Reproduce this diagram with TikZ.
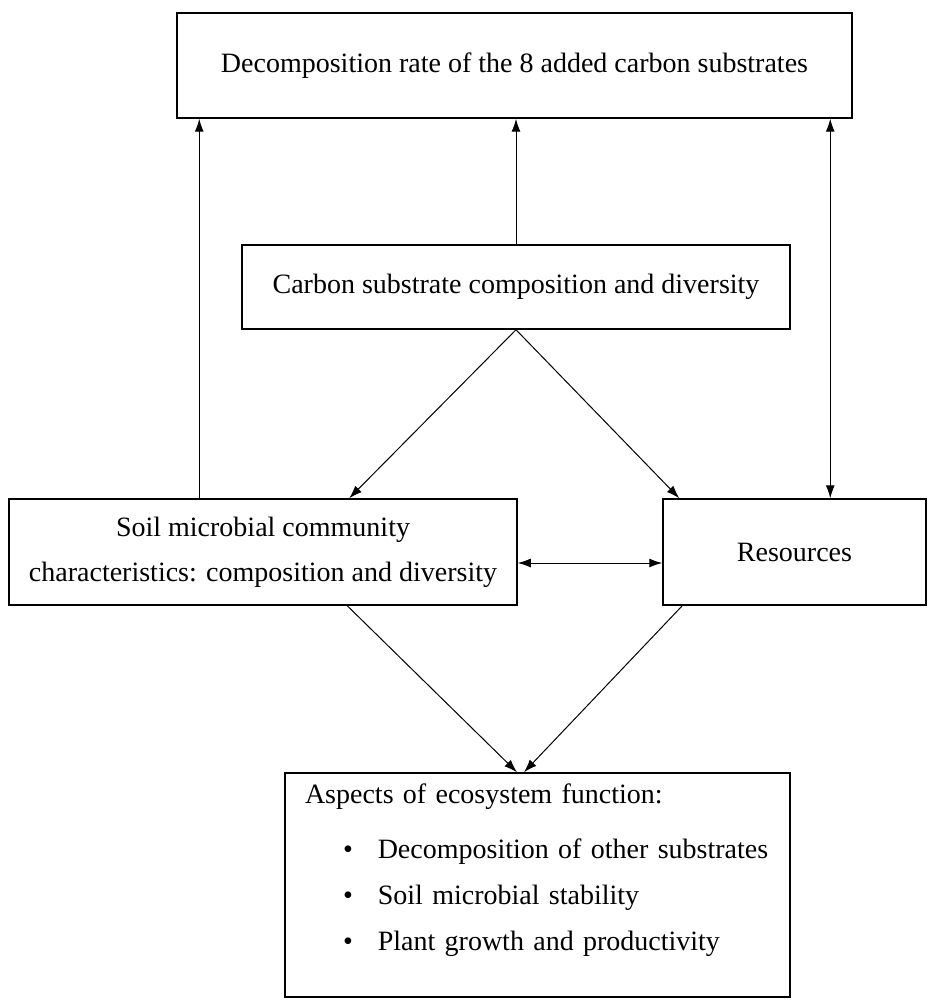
\documentclass[tikz,border=0pt]{standalone}
\usepackage{fontspec}
\setmainfont{Liberation Serif}
\usetikzlibrary{arrows.meta}
\begin{document}
\begin{tikzpicture}[x=0.5pt, y=-0.5pt,
    box/.style={draw, line width=0.75pt, inner sep=0pt, align=center, font=\fontsize{14}{22.5}\selectfont},
    arr/.style={-{Latex[length=6.5pt,width=4.5pt]}, line width=0.5pt},
    dbl/.style={{Latex[length=6.5pt,width=4.5pt]}-{Latex[length=6.5pt,width=4.5pt]}, line width=0.5pt}]
      \useasboundingbox (0,0) rectangle (928,1000);
      \node[box, minimum width=337.5pt, minimum height=52.5pt] (rate) at (514.5,65.5) {Decomposition rate of the 8 added carbon substrates};
      \node[box, minimum width=274pt, minimum height=42pt] (carbon) at (516,287) {Carbon substrate composition and diversity};
      \node[box, minimum width=254pt, minimum height=53pt] (soil) at (263,552) {Soil microbial community\\characteristics: composition and diversity};
      \node[box, minimum width=131.5pt, minimum height=53pt] (res) at (794.5,552) {Resources};
      \node[box, minimum width=252.5pt, minimum height=112pt, inner xsep=10pt, text width=232.5pt, align=left,
            font=\fontsize{14}{23}\selectfont] (eco) at (537.5,885)
            {Aspects of ecosystem function:\\[4.5pt]
             \hspace*{19pt}\textbullet\hspace{12.5pt}Decomposition of other substrates\\
             \hspace*{19pt}\textbullet\hspace{12.5pt}Soil microbial stability\\
             \hspace*{19pt}\textbullet\hspace{12.5pt}Plant growth and productivity\\[-5.6pt]
             \mbox{}};

      \draw[arr] ([xshift=95.5pt]soil.north west) -- ([xshift=95.5pt]soil.north west |- rate.south);
      \draw[arr] (carbon.north) -- (carbon.north |- rate.south);
      \draw[dbl] ([xshift=84pt]res.north west) -- ([xshift=84pt]res.north west |- rate.south);
      \draw[arr] (carbon.south) -- ([xshift=170.5pt]soil.north west);
      \draw[arr] (carbon.south) -- ([xshift=8.5pt]res.north west);
      \draw[dbl] ([yshift=-5.5pt]soil.east) -- ([yshift=-5.5pt]res.west);
      \draw[arr] ([xshift=169.5pt]soil.south west) -- ([xshift=-10.25pt]eco.north);
      \draw[arr] ([xshift=10pt]res.south west) -- ([xshift=-6.75pt]eco.north);
    \end{tikzpicture}
\end{document}
